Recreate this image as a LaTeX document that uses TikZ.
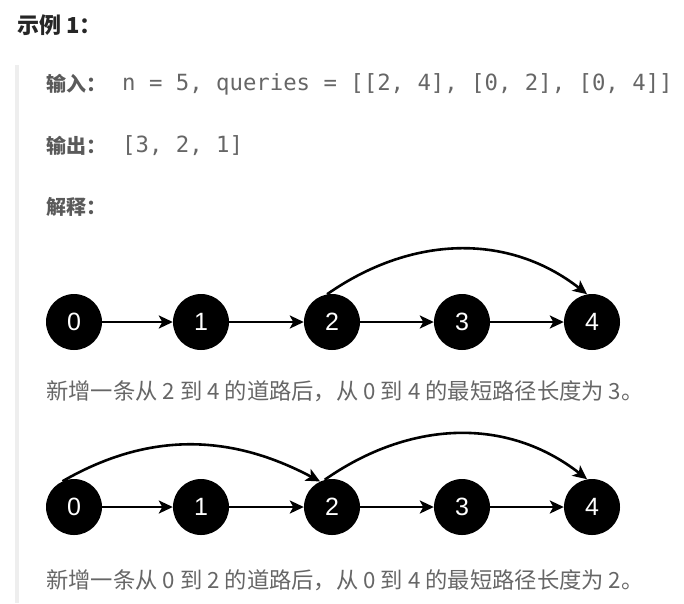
\documentclass[tikz,border=0pt]{standalone}
\usepackage{fontspec}
\setmainfont{Noto Sans CJK SC}
\newfontfamily\codefont{DejaVu Sans Mono}
\newfontfamily\numfont{Liberation Sans}
\usetikzlibrary{arrows.meta}
\definecolor{headcol}{HTML}{262626}
\definecolor{keycol}{HTML}{5A5A5A}
\definecolor{txtcol}{HTML}{666666}
\definecolor{barcol}{HTML}{EEEEEE}
\begin{document}
\begin{tikzpicture}
  [x=1pt,y=-1pt,
   every node/.style={inner sep=0pt,anchor=west},
   vertex/.style={circle,fill=black,minimum size=56pt,anchor=center,
     text=white,font=\numfont\fontsize{25}{25}\selectfont},
   edge/.style={line width=2.6pt,-{Stealth[length=14pt,width=13pt,inset=3.5pt]}},
   head/.style={text=headcol,font=\bfseries\fontsize{22}{24}\selectfont},
   key/.style={text=keycol,font=\bfseries\fontsize{20}{24}\selectfont},
   code/.style={text=txtcol,font=\codefont\fontsize{22.3}{24}\selectfont},
   caption/.style={text=txtcol,font=\fontsize{22.3}{24}\selectfont}]
\useasboundingbox (0,0) rectangle (684,603);
  % barra gris de la cita
  \fill[barcol] (15,65) rectangle (19,603);

  % textos
  \node[head] (title) at (17,25) {示例 1：};
  \node[key] (kin) at (46,84) {输入：};
  \node[code] (vin) at (122,84) {n = 5, queries = [[2, 4], [0, 2], [0, 4]]};
  \node[key] (kout) at (46,146) {输出：};
  \node[code] (vout) at (122,146) {[3, 2, 1]};
  \node[key] (kexp) at (46,207) {解释：};

  % primer grafo
  \foreach \i/\x in {0/74, 1/201, 2/332, 3/462, 4/592}
    \node[vertex] (a\i) at (\x,322) {\i};
  \foreach \from/\to in {a0/a1, a1/a2, a2/a3, a3/a4}
    \draw[edge] (\from) -- (\to);
  \draw[edge] (a2.100) to[out=35,in=142] (a4.100);
  \node[caption] (c1) at (46,391) {新增一条从 2 到 4 的道路后，从 0 到 4 的最短路径长度为 3。};

  % segundo grafo
  \foreach \i/\x in {0/74, 1/201, 2/332, 3/462, 4/592}
    \node[vertex] (b\i) at (\x,507) {\i};
  \foreach \from/\to in {b0/b1, b1/b2, b2/b3, b3/b4}
    \draw[edge] (\from) -- (\to);
  \draw[edge] (b0.114) to[out=30,in=152] (b2.115);
  \draw[edge] (b2.105) to[out=35,in=142] (b4.100);
  \node[caption] (c2) at (46,580) {新增一条从 0 到 2 的道路后，从 0 到 4 的最短路径长度为 2。};
\end{tikzpicture}
\end{document}
